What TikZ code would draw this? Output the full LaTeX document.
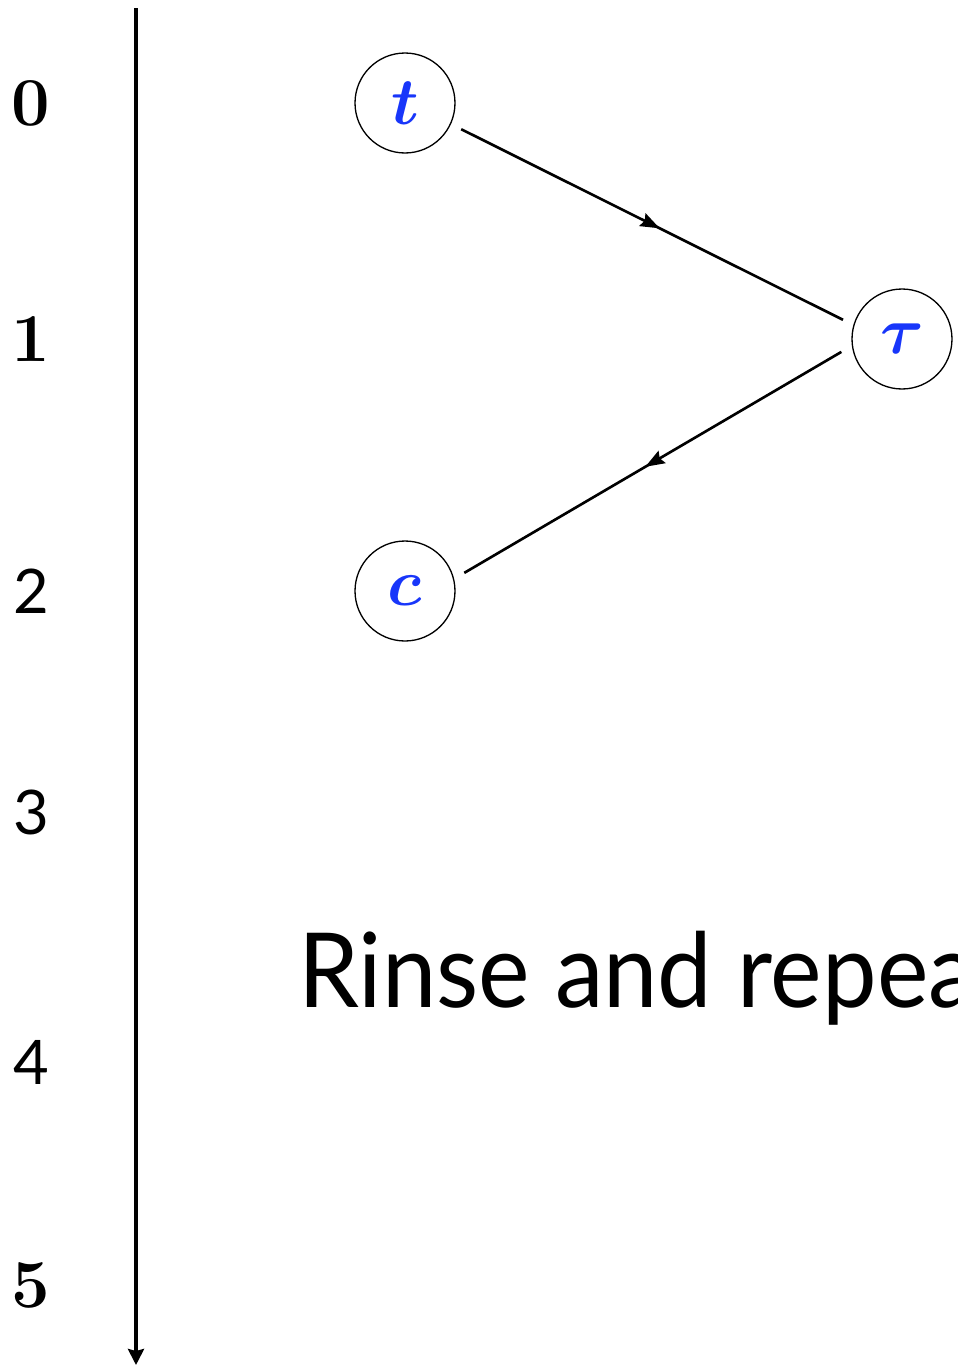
\RequirePackage{fix-cm}
\documentclass[tikz,border=0pt]{standalone}
\usepackage{amsmath, amssymb}
\usepackage{graphicx}
\usepackage{fontspec}
\setsansfont{Lato}
\usepackage{xcolor}
\usetikzlibrary{positioning, arrows.meta, decorations.markings}

\definecolor{stateblue}{RGB}{24,54,250}

\begin{document}
\begin{tikzpicture}[x=0.02cm, y=-0.02cm,
    state/.style={draw, circle, line width=0.75pt, minimum size=2cm, inner sep=0pt,
        outer sep=0.24cm, text=stateblue, font=\fontsize{38}{40}\selectfont},
    flow/.style={line width=1.5pt, postaction={decorate},
        decoration={markings, mark=at position 0.52 with {\arrow{Stealth[length=11pt, width=8pt, inset=1.5pt]}}}},
    tick/.style={inner sep=0pt, font=\fontsize{39}{42}\selectfont\bfseries},
    stick/.style={inner sep=0pt, font=\fontsize{35}{38}\selectfont\sffamily},
    axis/.style={line width=2.8pt, -{Stealth[length=0.32cm, width=0.32cm, inset=0.04cm]}}]

    \useasboundingbox (0,0) rectangle (957,1366);
    \clip (0,0) rectangle (957,1366);

    % time axis
    \coordinate (top) at (136,8);
    \coordinate (bottom) at (136,1365);
    \draw[axis] (top) -- (bottom);

    \node[tick]  at (31,103)  (l0) {0};
    \node[tick]  at (31,339)  (l1) {1};
    \node[stick] at (31,591)  (l2) {2};
    \node[stick] at (31,812)  (l3) {3};
    \node[stick] at (31,1062) (l4) {4};
    \node[tick]  at (31,1285) (l5) {5};

    % states
    \node[state] at (405,103) (T)   {\(\boldsymbol{t}\)};
    \node[state] at (902,339) (tau) {\(\boldsymbol{\tau}\)};
    \node[state] at (405,591) (C)   {\(\boldsymbol{c}\)};

    \draw[flow] (T.-25) -- (tau.162);
    \draw[flow] (tau.192) -- (C.17);

    \node[anchor=base west, inner sep=0pt, font=\sffamily\fontsize{59}{61}\selectfont]
        at (298,1007) (rinse) {\scalebox{0.94}[1]{Rinse and repeat}};
\end{tikzpicture}
\end{document}
